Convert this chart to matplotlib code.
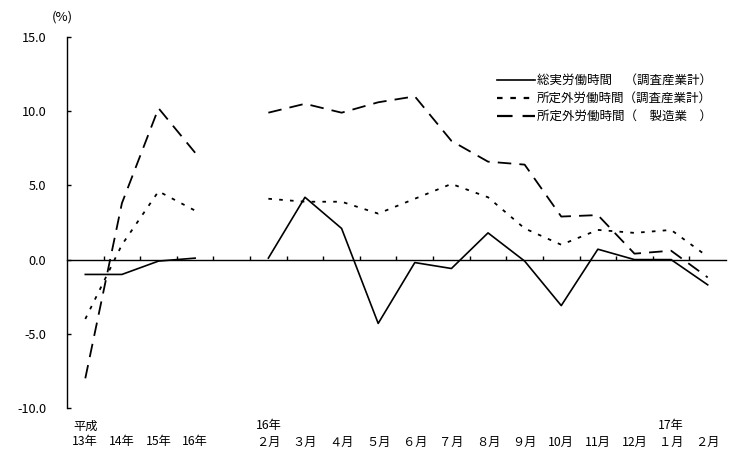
import numpy as np
import matplotlib
matplotlib.use("Agg")
import matplotlib.pyplot as plt
from matplotlib.lines import Line2D
import matplotlib.transforms as mtransforms

plt.rcParams['font.family'] = ['Noto Sans CJK JP', 'DejaVu Sans']

nan = np.nan
# categories (bottom line) and upper line labels
cat_lower = ["13年", "14年", "15年", "16年", "",
             "２月", "３月", "４月", "５月", "６月", "７月", "８月", "９月",
             "10月", "11月", "12月", "１月", "２月"]
cat_upper = ["平成", "", "", "", "",
             "16年", "", "", "", "", "", "", "",
             "", "", "", "17年", ""]

total_hours = [-1.0, -1.0, -0.1, 0.1, nan,
               0.1, 4.2, 2.1, -4.3, -0.2, -0.6, 1.8, -0.1,
               -3.1, 0.7, 0.0, 0.0, -1.7]
overtime_all = [-4.0, 1.0, 4.6, 3.3, nan,
                4.1, 3.9, 3.9, 3.1, 4.1, 5.1, 4.2, 2.1,
                1.0, 2.0, 1.8, 2.0, 0.2]
overtime_mfg = [-8.0, 3.8, 10.2, 7.2, nan,
                9.9, 10.5, 9.9, 10.6, 11.0, 8.0, 6.6, 6.4,
                2.9, 3.0, 0.4, 0.6, -1.2]

series_labels = ["総実労働時間　（調査産業計）",
                 "所定外労働時間（調査産業計）",
                 "所定外労働時間（　製造業　）"]

yticks = [15.0, 10.0, 5.0, 0.0, -5.0, -10.0]

fig = plt.figure(figsize=(7.45, 4.63), dpi=100)
ax = fig.add_axes([67/745, 1-408/463, (726-67)/745, (408-37)/463])

x = np.arange(len(cat_lower))
ax.plot(x, total_hours, color='black', lw=1.2, linestyle='-')
ax.plot(x, overtime_all, color='black', lw=1.3, linestyle=(0, (2, 4)))
ax.plot(x, overtime_mfg, color='black', lw=1.3, linestyle=(0, (7.5, 4.5)))

ax.set_xlim(-0.5, len(x) - 0.5)
ax.set_ylim(-10, 15)

for s in ['top', 'right']:
    ax.spines[s].set_visible(False)
ax.spines['bottom'].set_position(('data', 0))
ax.spines['left'].set_linewidth(1.0)
ax.spines['bottom'].set_linewidth(1.0)

ax.set_xticks(np.arange(0.5, len(x) - 1, 1.0))
ax.set_xticklabels([])
ax.tick_params(axis='x', direction='in', length=3, width=1.0)

ax.set_yticks(yticks)
ax.set_yticklabels([f"{v:.1f}" for v in yticks], fontsize=9.2)
ax.tick_params(axis='y', direction='in', length=3, width=1.0, pad=15)

trans = mtransforms.blended_transform_factory(ax.transData, fig.transFigure)
for i, (lo, up) in enumerate(zip(cat_lower, cat_upper)):
    if lo:
        ax.text(i, 1 - 442/463, lo, transform=trans, ha='center', va='center', fontsize=8.8)
    if up:
        ax.text(i, 1 - 426/463, up, transform=trans, ha='center', va='center', fontsize=8.8)

fig.text(62/745, 1 - 17/463, "(%)", ha='center', va='center', fontsize=9.5)

handles = [Line2D([], [], color='black', lw=1.2, linestyle='-'),
           Line2D([], [], color='black', lw=1.6, linestyle=(0, (2.5, 3.5))),
           Line2D([], [], color='black', lw=1.6, linestyle=(0, (7, 4.5)))]
leg = ax.legend(handles, series_labels, loc='upper left',
                bbox_to_anchor=(497/745, 1 - 74/463), bbox_transform=fig.transFigure,
                frameon=False, fontsize=9.0, handlelength=3.0, handletextpad=0.2,
                labelspacing=0.4, borderpad=0, borderaxespad=0)

fig.savefig("out.png", dpi=100)
